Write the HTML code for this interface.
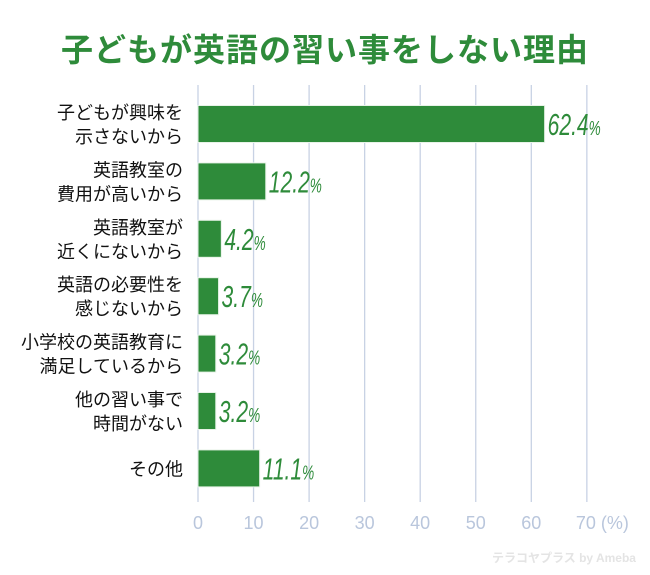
<!DOCTYPE html>
<html><head><meta charset="utf-8"><style>
body{margin:0;width:650px;height:575px;background:#fff;font-family:"Liberation Sans","Noto Sans CJK JP",sans-serif;overflow:hidden}
#title{position:absolute;left:0;top:25px;width:650px;text-align:center;font-size:32px;font-weight:bold;color:#2e8b3a;letter-spacing:1px}
</style></head><body>
<div id="title">子どもが英語の習い事をしない理由</div>
<svg id="chart" width="650" height="575" style="position:absolute;left:0;top:0"></svg>
<script>
const categories=[["子どもが興味を","示さないから"],["英語教室の","費用が高いから"],["英語教室が","近くにないから"],["英語の必要性を","感じないから"],["小学校の英語教育に","満足しているから"],["他の習い事で","時間がない"],["その他"]];
const values=[62.4,12.2,4.2,3.7,3.2,3.2,11.1];
const valueLabels=["62.4","12.2","4.2","3.7","3.2","3.2","11.1"];
const ticks=[0,10,20,30,40,50,60,70];
const NS="http://www.w3.org/2000/svg";
const svg=document.getElementById('chart');
const x0=198,pxPer=5.555,rowTop=124,rowStep=57.4,barH=37;
const xs=v=>x0+v*pxPer;
const yc=i=>rowTop+i*rowStep;
function mk(t,a){const e=document.createElementNS(NS,t);for(const k in a)e.setAttribute(k,a[k]);svg.appendChild(e);return e;}
ticks.forEach((t,i)=>{
 const g=mk('line',{x1:xs(t),x2:xs(t),y1:85,y2:502,stroke:'#c8d2e4','stroke-width':1.3});
 
 
 const tx=mk('text',{x:xs(t),y:529,'text-anchor':'middle','font-size':18,fill:'#b9c6dc'});
 tx.textContent=t+(i==ticks.length-1?' (%)':'');
 if(i==ticks.length-1){tx.setAttribute('text-anchor','start');tx.setAttribute('x',xs(t)-11);}
 
 
});
values.forEach((v,i)=>{
 const r=mk('rect',{x:x0,y:yc(i)-barH/2,width:xs(v)-x0,height:barH,fill:'#2e8b3a',stroke:'#e8f3e8','stroke-width':1});
 
 
 const vt=mk('text',{x:0,y:0,'font-size':31,'font-style':'italic',fill:'#2e8b3a',transform:'translate('+(xs(v)+3)+','+(yc(i)+11)+') scale(0.68,1)'});
 vt.innerHTML=valueLabels[i]+'<tspan font-size="20">%</tspan>';
 
 
 const lines=categories[i];
 lines.forEach((l,j)=>{
  const ct=mk('text',{x:183,y:yc(i)+7+(j-(lines.length-1)/2)*24,'text-anchor':'end','font-size':18,fill:'#111'});
  ct.textContent=l;
  
  
 });
});
const wm=mk('text',{x:636,y:562,'text-anchor':'end','font-size':12,fill:'#e4e4e4','font-weight':'bold'});
wm.textContent='テラコヤプラス by Ameba';


</script>
</body></html>
